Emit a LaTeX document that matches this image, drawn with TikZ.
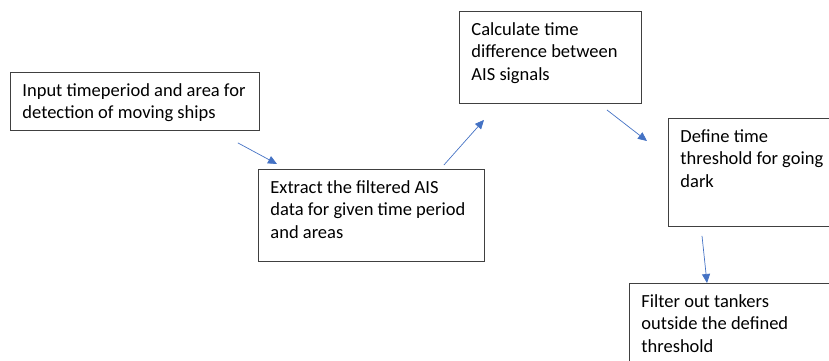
\documentclass[tikz,border=0pt]{standalone}
\usepackage{fontspec}
\setmainfont{Carlito}
\usepackage{tikz}
\usetikzlibrary{arrows.meta, positioning}
\usepackage{xcolor}

\definecolor{flowblue}{HTML}{4472C4}
\definecolor{boxgray}{HTML}{404040}

% text of a box, set at its top left corner
\newcommand{\steptext}[3]{\parbox[c][#2][t]{#1}{\raggedright #3}}

\begin{document}
\begin{tikzpicture}[
    x=1pt, y=-1pt,
    stepbox/.style = {rectangle, draw=boxgray, line width=0.9pt, anchor=north west, inner xsep=12pt, inner ysep=11pt, font=\fontsize{18.5pt}{22.5pt}\selectfont},
    flow/.style = {draw=flowblue, ->, >={Triangle[length=9pt,width=8pt]}, line width=0.7pt}
]

\useasboundingbox (0,0) rectangle (829,360);
\clip (0,0) rectangle (829,360);

% Steps
\node (input) [stepbox] at (10,72) {\steptext{225pt}{36pt}{Input timeperiod and area for\\detection of moving ships}};
\node (extract) [stepbox] at (258,169) {\steptext{202pt}{70pt}{Extract the filtered AIS\\data for given time period\\and areas}};
\node (calc) [stepbox] at (459,11) {\steptext{158pt}{70pt}{Calculate time\\difference between\\AIS signals}};
\node (define) [stepbox] at (668,118) {\steptext{190pt}{86pt}{Define time\\threshold for going\\dark}};
\node (filter) [stepbox] at (629,283) {\steptext{210pt}{100pt}{Filter out tankers\\outside the defined\\threshold}};

% Flow
\draw [flow] ([xshift=-22pt,yshift=-12pt]input.south east) -- ([xshift=19pt,yshift=5pt]extract.north west);
\draw [flow] ([xshift=-41pt,yshift=4pt]extract.north east) -- ([xshift=25pt,yshift=-16pt]calc.south west);
\draw [flow] ([xshift=-35pt,yshift=-6pt]calc.south east) -- ([xshift=-21pt,yshift=-23pt]define.north west);
\draw [flow] ([xshift=34pt,yshift=-9pt]define.south west) -- ([xshift=78pt]filter.north west);

\end{tikzpicture}
\end{document}
